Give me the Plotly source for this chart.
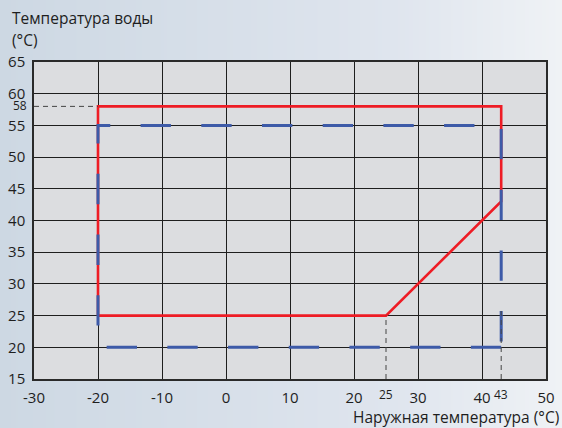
import base64
import struct
import zlib

import plotly.graph_objects as go

# Axis ticks
x_ticks = [-30, -20, -10, 0, 10, 20, 30, 40, 50]
y_ticks = [15, 20, 25, 30, 35, 40, 45, 50, 55, 60, 65]

# Extra marked values on the axes
x_marks = [25, 43]
y_marks = [58]

# Operating range outline (red)
range_x = [-20, -20, 43, 43, 25, -20]
range_y = [25, 58, 58, 43, 25, 25]

# Secondary range outline (blue dashed)
alt_x = [43, -20, -20, 43, 43]
alt_y = [20, 20, 55, 55, 20]

# Reference guides (black dashed)
guide_58_x = [-30, -20]
guide_58_y = [58, 58]
guide_25_x = [25, 25]
guide_25_y = [15, 25]
guide_43_x = [43, 43]
guide_43_y = [15, 26]

W, H = 562, 428
ML, MR, MT, MB = 34, 16, 62, 49
PW, PH = W - ML - MR, H - MT - MB


def px_x(px):
    return (px - ML) / PW


def px_y(py):
    return 1 - (py - MT) / PH


def gradient_png(width, stops):
    """Horizontal colour gradient as a tiny PNG data URI."""
    row = bytearray()
    for i in range(width):
        t = i / (width - 1)
        for (t0, c0), (t1, c1) in zip(stops[:-1], stops[1:]):
            if t0 <= t <= t1:
                f = (t - t0) / (t1 - t0) if t1 > t0 else 0
                row += bytes(round(a + (b - a) * f) for a, b in zip(c0, c1))
                break
    raw = b"".join(b"\x00" + bytes(row) for _ in range(2))

    def chunk(tag, data):
        c = struct.pack(">I", len(data)) + tag + data
        return c + struct.pack(">I", zlib.crc32(tag + data) & 0xFFFFFFFF)

    png = b"\x89PNG\r\n\x1a\n"
    png += chunk(b"IHDR", struct.pack(">IIBBBBB", width, 2, 8, 2, 0, 0, 0))
    png += chunk(b"IDAT", zlib.compress(raw))
    png += chunk(b"IEND", b"")
    return "data:image/png;base64," + base64.b64encode(png).decode()


bg_src = gradient_png(
    W,
    [(0.0, (205, 216, 227)), (0.7, (223, 229, 238)), (1.0, (239, 242, 245))],
)

fig = go.Figure()

fig.add_trace(go.Scatter(
    x=range_x, y=range_y, mode="lines",
    line=dict(color="#ee1c25", width=2.6),
    hoverinfo="skip",
))
fig.add_trace(go.Scatter(
    x=alt_x, y=alt_y, mode="lines",
    line=dict(color="#3d5aa8", width=3, dash="30.35px,30.35px"),
    hoverinfo="skip",
))
for gx, gy in [(guide_58_x, guide_58_y), (guide_25_x, guide_25_y),
               (guide_43_x, guide_43_y)]:
    fig.add_trace(go.Scatter(
        x=gx, y=gy, mode="lines",
        line=dict(color="#444444", width=1, dash="5px,4px"),
        hoverinfo="skip",
    ))

font_family = "Open Sans, DejaVu Sans, sans-serif"
text_color = "#1e1e1e"
title_font = dict(size=15.5, color=text_color, family=font_family)

annotations = [
    dict(text="Температура воды", xref="paper", yref="paper",
         x=px_x(10), y=px_y(18), xanchor="left", yanchor="middle",
         showarrow=False, font=title_font),
    dict(text="(°C)", xref="paper", yref="paper",
         x=px_x(10), y=px_y(40), xanchor="left", yanchor="middle",
         showarrow=False, font=title_font),
    dict(text="Наружная температура (°C)", xref="paper", yref="paper",
         x=px_x(561), y=px_y(404), xanchor="right", yanchor="top",
         showarrow=False, font=title_font),
]
for xm in x_marks:
    annotations.append(dict(
        text=str(xm), xref="x", yref="paper", x=xm, y=px_y(384),
        xanchor="center", yanchor="top", showarrow=False,
        font=dict(size=12, color=text_color, family=font_family)))
for ym in y_marks:
    annotations.append(dict(
        text=str(ym), xref="paper", yref="y", x=px_x(29), y=ym,
        xanchor="right", yanchor="middle", yshift=1, showarrow=False,
        font=dict(size=12, color=text_color, family=font_family)))

fig.update_layout(
    width=W, height=H,
    margin=dict(l=ML, r=MR, t=MT, b=MB, pad=0),
    paper_bgcolor="#e2e8ef",
    plot_bgcolor="rgba(0,0,0,0)",
    showlegend=False,
    images=[dict(source=bg_src, xref="paper", yref="paper",
                 x=-ML / PW, y=1 + MT / PH, sizex=W / PW, sizey=H / PH,
                 xanchor="left", yanchor="top", sizing="stretch",
                 layer="below")],
    shapes=[dict(type="rect", xref="paper", yref="paper", x0=0, x1=1,
                 y0=0, y1=1, fillcolor="#dcdde0", line=dict(width=0),
                 layer="below")],
    annotations=annotations,
    font=dict(family=font_family, size=15, color=text_color),
)

fig.update_xaxes(
    range=[-30, 50], tickvals=x_ticks, ticktext=[str(v) for v in x_ticks],
    showgrid=True, gridcolor="#1e1e1e", gridwidth=1, zeroline=False,
    showline=True, linecolor="#2a2a2a", linewidth=1.5, mirror=True,
    ticks="", ticklabelstandoff=4, automargin=False,
    tickfont=dict(size=15, color=text_color, family=font_family),
)
fig.update_yaxes(
    range=[15, 65], tickvals=y_ticks, ticktext=[str(v) for v in y_ticks],
    showgrid=True, gridcolor="#1e1e1e", gridwidth=1, zeroline=False,
    showline=True, linecolor="#2a2a2a", linewidth=1.5, mirror=True,
    ticks="", ticklabelstandoff=4, automargin=False,
    tickfont=dict(size=15, color=text_color, family=font_family),
)

fig.write_html("out.html")
